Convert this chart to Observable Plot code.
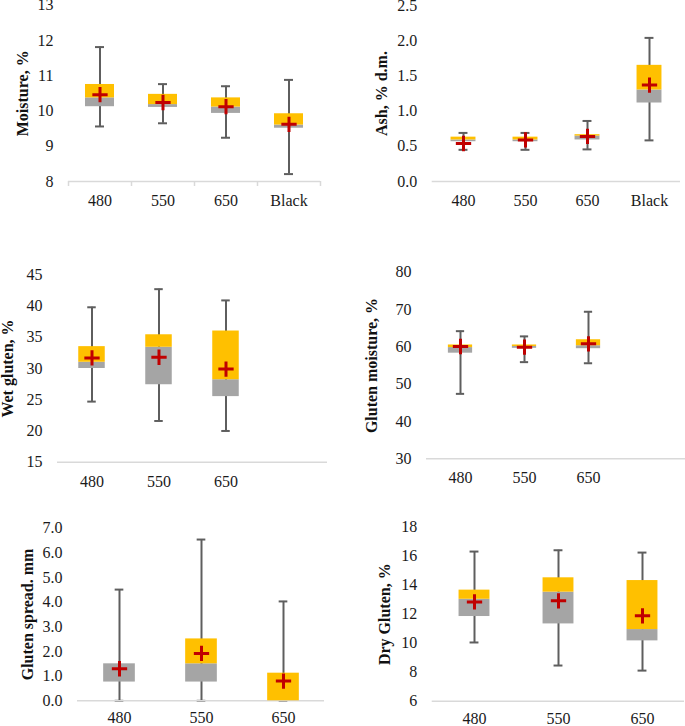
<!DOCTYPE html>
<html>
<head>
<meta charset="utf-8">
<script src="https://cdn.jsdelivr.net/npm/d3@7"></script>
<script src="https://cdn.jsdelivr.net/npm/@observablehq/plot@0.6"></script>
<style>
  html, body { margin: 0; padding: 0; background: #fff; }
  #wrap { position: relative; width: 685px; height: 726px; overflow: hidden; }
  #wrap svg { position: absolute; overflow: visible; }
</style>
</head>
<body>
<div id="wrap"></div>
<script>
// Categories (light wavelength, nm)
const cats4 = ["480", "550", "650", "Black"];
const cats3 = ["480", "550", "650"];
const cats3Blank = ["480", "550", "650", ""];
const statNames = ["min", "q1", "median", "q3", "max", "mean"];

// Stats per category: [min, Q1, median, Q3, max, mean]
const moistureStats = [
  [9.56, 10.12, 10.37, 10.75, 11.81, 10.46],
  [9.65, 10.10, 10.18, 10.47, 10.76, 10.24],
  [9.24, 9.93, 10.11, 10.37, 10.70, 10.12],
  [8.21, 9.51, 9.60, 9.92, 10.88, 9.62]
];
const ashStats = [
  [0.45, 0.565, 0.59, 0.63, 0.69, 0.54],
  [0.45, 0.565, 0.59, 0.63, 0.69, 0.59],
  [0.456, 0.59, 0.645, 0.665, 0.86, 0.64],
  [0.584, 1.115, 1.30, 1.65, 2.04, 1.37]
];
const wetGlutenStats = [
  [24.7, 30.0, 31.0, 33.5, 39.8, 31.7],
  [21.6, 27.4, 33.4, 35.4, 42.7, 31.8],
  [20.0, 25.5, 28.2, 36.0, 40.9, 29.9]
];
const glutenMoistureStats = [
  [47.4, 58.3, 59.8, 60.5, 64.2, 60.1],
  [55.9, 59.6, 60.1, 60.5, 62.8, 59.9],
  [55.6, 59.5, 60.3, 61.9, 69.4, 60.8]
];
const glutenSpreadStats = [
  [0, 0.76, 1.50, 1.50, 4.51, 1.30],
  [0, 0.76, 1.50, 2.51, 6.54, 1.92],
  [0, 0, 0, 1.12, 4.03, 0.80]
];
const dryGlutenStats = [
  [10.05, 11.84, 13.03, 13.66, 16.32, 12.85],
  [8.46, 11.33, 13.52, 14.51, 16.41, 12.92],
  [8.11, 10.16, 10.94, 14.32, 16.25, 11.89]
];

// Y-axis ticks
const moistureTicks = [8, 9, 10, 11, 12, 13];
const ashTicks = [0, 0.5, 1.0, 1.5, 2.0, 2.5];
const wetGlutenTicks = [15, 20, 25, 30, 35, 40, 45];
const glutenMoistureTicks = [30, 40, 50, 60, 70, 80];
const glutenSpreadTicks = [0, 1, 2, 3, 4, 5, 6, 7];
const dryGlutenTicks = [6, 8, 10, 12, 14, 16, 18];

const GRAY = "#a5a5a5", ORANGE = "#ffc000", WHISK = "#5e5e5e", RED = "#c00000", AXIS = "#d9d9d9";

function toRows(cats, stats) {
  return stats.map((s, i) => {
    const o = {cat: cats[i]};
    statNames.forEach((n, j) => o[n] = s[j]);
    return o;
  });
}

function panel(cfg) {
  const rows = toRows(cfg.domain, cfg.stats);
  const n = cfg.domain.length;
  const step = (cfg.width - cfg.ml - cfg.mr) / n;
  const boxInset = (step - cfg.box) / 2;
  const capInset = (step - 9) / 2;
  const ymin = cfg.ticks[0];
  const marks = [
    Plot.ruleX(rows, {x: "cat", y1: "min", y2: "max", stroke: WHISK, strokeWidth: 2}),
    Plot.tickY(rows, {x: "cat", y: "min", stroke: WHISK, strokeWidth: 2, insetLeft: capInset, insetRight: capInset}),
    Plot.tickY(rows, {x: "cat", y: "max", stroke: WHISK, strokeWidth: 2, insetLeft: capInset, insetRight: capInset}),
    Plot.ruleY([ymin], {stroke: AXIS, strokeWidth: 1.5}),
    Plot.barY(rows, {x: "cat", y1: "q1", y2: "median", fill: GRAY, insetLeft: boxInset, insetRight: boxInset}),
    Plot.barY(rows, {x: "cat", y1: "median", y2: "q3", fill: ORANGE, insetLeft: boxInset, insetRight: boxInset}),
    Plot.dot(rows, {x: "cat", y: "mean", symbol: "plus", r: 5, stroke: RED, strokeWidth: 3}),
    Plot.axisY({ticks: cfg.ticks, tickSize: 0, tickPadding: 15, tickFormat: cfg.fmt, label: null, fontSize: 16, fill: "#1a1a1a"}),
    Plot.axisX({tickSize: 0, tickPadding: cfg.xPad ?? 13, label: null, fontSize: 16, fill: "#1a1a1a"}),
    Plot.text([cfg.label], {frameAnchor: "left", rotate: -90, textAnchor: "middle", dx: cfg.labelDx, fontWeight: "bold", fontSize: 16, fill: "#111"})
  ];
  if (cfg.boundaryTicks) {
    const y2 = ymin - 5 * (cfg.ticks[cfg.ticks.length - 1] - ymin) / (cfg.height - cfg.mt - cfg.mb);
    marks.push(Plot.ruleX(cfg.domain, {x: d => d, y1: ymin, y2, dx: -step / 2, stroke: AXIS, strokeWidth: 1.5}));
    marks.push(Plot.ruleX([cfg.domain[n - 1]], {x: d => d, y1: ymin, y2, dx: step / 2, stroke: AXIS, strokeWidth: 1.5}));
  }
  const svg = Plot.plot({
    width: cfg.width,
    height: cfg.height,
    marginLeft: cfg.ml, marginRight: cfg.mr, marginTop: cfg.mt, marginBottom: cfg.mb,
    style: {fontFamily: "'Liberation Serif', 'Times New Roman', serif", fontSize: "16px", background: "transparent", color: "#1a1a1a"},
    x: {type: "band", domain: cfg.domain, padding: 0},
    y: {domain: [ymin, cfg.ticks[cfg.ticks.length - 1]]},
    marks
  });
  svg.style.left = cfg.left + "px";
  svg.style.top = cfg.top + "px";
  document.getElementById("wrap").appendChild(svg);
}

panel({left: 0, top: 0, width: 340, height: 211, ml: 68, mr: 20, mt: 4.6, mb: 30,
  domain: cats4, stats: moistureStats, ticks: moistureTicks, fmt: d3.format("d"),
  label: "Moisture, %", labelDx: -46, box: 29, boundaryTicks: true});
panel({left: 340, top: 0, width: 345, height: 211, ml: 91.7, mr: 5, mt: 5, mb: 30,
  domain: cats4, stats: ashStats, ticks: ashTicks, fmt: d3.format(".1f"),
  label: "Ash, % d.m.", labelDx: -50, box: 25});
panel({left: 0, top: 240, width: 340, height: 250, ml: 57, mr: 13, mt: 34.3, mb: 28.3,
  domain: cats3Blank, stats: wetGlutenStats, ticks: wetGlutenTicks, fmt: d3.format("d"),
  label: "Wet gluten, %", labelDx: -50, box: 27});
panel({left: 340, top: 240, width: 345, height: 248.3, ml: 86, mr: 0, mt: 31.7, mb: 30,
  domain: cats3Blank, stats: glutenMoistureStats, ticks: glutenMoistureTicks, fmt: d3.format("d"),
  label: "Gluten moisture, %", labelDx: -55, box: 25});
panel({left: 0, top: 490, width: 340, height: 236.3, ml: 77, mr: 16, mt: 37.7, mb: 26,
  domain: cats3, stats: glutenSpreadStats, ticks: glutenSpreadTicks, fmt: d3.format(".1f"),
  label: "Gluten spread. mm", labelDx: -50, box: 32, xPad: 11});
panel({left: 340, top: 490, width: 345, height: 236, ml: 91.7, mr: 1, mt: 36.7, mb: 25.3,
  domain: cats3, stats: dryGlutenStats, ticks: dryGlutenTicks, fmt: d3.format("d"),
  label: "Dry Gluten, %", labelDx: -47, box: 31, xPad: 11});
</script>
</body>
</html>
